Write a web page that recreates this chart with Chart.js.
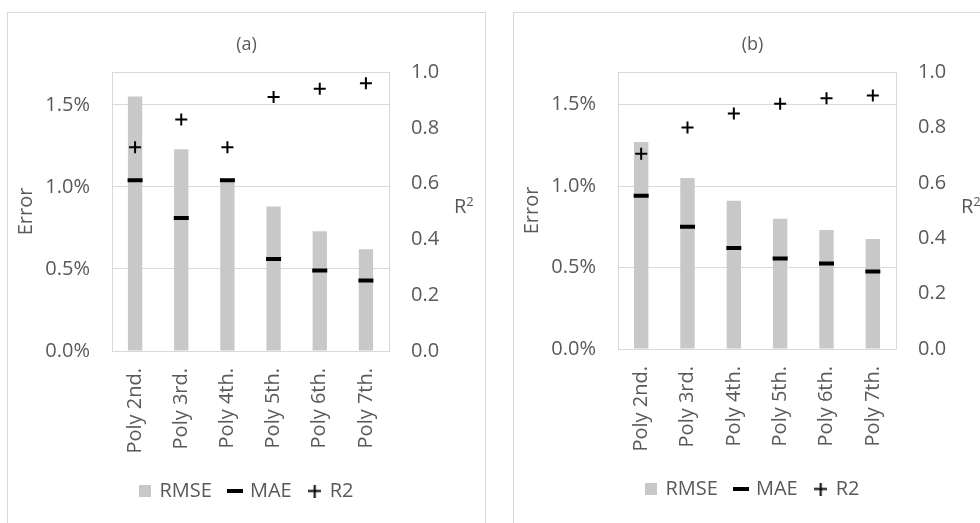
<!DOCTYPE html>
<html>
<head>
<meta charset="utf-8">
<script src="https://cdn.jsdelivr.net/npm/chart.js@4.4.1/dist/chart.umd.min.js"></script>
<style>
  html, body { margin: 0; padding: 0; background: #fff; width: 980px; height: 523px; overflow: hidden; position: relative; font-family: 'Open Sans', sans-serif; }
  .panel { position: absolute; top: 12px; height: 520px; width: 479px; border: 1px solid #d9d9d9; border-bottom: none; box-sizing: border-box; }
  #panelA { left: 7px; }
  #panelB { left: 513px; }
  .panel canvas { position: absolute; left: 0; top: 0; }
  .r2title { position: absolute; top: 196px; font-size: 20px; line-height: 19px; color: #595959; white-space: nowrap; }
  .r2title span { font-size: 13px; position: relative; top: -7px; }
</style>
</head>
<body>
<div class="panel" id="panelA"><canvas id="chartA" width="477" height="510"></canvas></div>
<div class="panel" id="panelB"><canvas id="chartB" width="477" height="510"></canvas></div>
<div class="r2title" style="left:454px">R<span>2</span></div>
<div class="r2title" style="left:961px">R<span>2</span></div>
<script>
// Polynomial fit orders compared in both panels
const categories = ['Poly 2nd.', 'Poly 3rd.', 'Poly 4th.', 'Poly 5th.', 'Poly 6th.', 'Poly 7th.'];
const seriesNames = ['RMSE', 'MAE', 'R2'];

// Panel (a): errors in percent, R² on the secondary axis
const rmseA = [1.55, 1.23, 1.05, 0.88, 0.73, 0.62];
const maeA  = [1.04, 0.81, 1.04, 0.56, 0.49, 0.43];
const r2A   = [0.73, 0.83, 0.73, 0.91, 0.94, 0.96];

// Panel (b)
const rmseB = [1.27, 1.05, 0.91, 0.80, 0.73, 0.675];
const maeB  = [0.94, 0.75, 0.62, 0.555, 0.525, 0.475];
const r2B   = [0.705, 0.80, 0.85, 0.885, 0.905, 0.915];

// Axis ranges and tick spacing
const errorMax = 1.7, errorStep = 0.5;
const r2Max = 1.0, r2Step = 0.2;

const TEXT = '#595959';
const GRID = '#d9d9d9';
const BAR = '#c8c8c8';
const FONT = "'Open Sans', sans-serif";
const AXIS_FONT = 20;

Chart.defaults.font.family = FONT;
Chart.defaults.color = TEXT;

// Small legend glyphs matching the markers
function legendIcon(kind) {
  const c = document.createElement('canvas');
  const g = c.getContext('2d');
  if (kind === 'rect') {
    c.width = 12; c.height = 12;
    g.fillStyle = BAR; g.fillRect(0, 0, 12, 12);
  } else if (kind === 'dash') {
    c.width = 16; c.height = 4;
    g.fillStyle = '#000'; g.fillRect(0, 0, 16, 4);
  } else {
    c.width = 13; c.height = 13;
    g.fillStyle = '#000'; g.fillRect(0, 5.5, 13, 2); g.fillRect(5.5, 0, 2, 13);
  }
  return c;
}
const icons = [legendIcon('rect'), legendIcon('dash'), legendIcon('cross')];

function isMajor(v, step) {
  return Math.abs(v / step - Math.round(v / step)) < 1e-6;
}

function makePanel(id, title, rmse, mae, r2, opt) {
  return new Chart(document.getElementById(id), {
    type: 'bar',
    data: {
      labels: categories,
      datasets: [
        {
          label: seriesNames[0], data: rmse, yAxisID: 'y', order: 3,
          backgroundColor: BAR, borderWidth: 0,
          barPercentage: 0.31, categoryPercentage: 1.0
        },
        {
          type: 'line', label: seriesNames[1], data: mae, yAxisID: 'y', order: 2,
          showLine: false, pointStyle: 'line', pointRadius: 7.5, pointHoverRadius: 7.5,
          borderColor: '#000', backgroundColor: '#000', borderWidth: 4, pointBorderWidth: 4
        },
        {
          type: 'line', label: seriesNames[2], data: r2, yAxisID: 'y1', order: 1,
          showLine: false, pointStyle: 'cross', pointRadius: 6, pointHoverRadius: 6,
          borderColor: '#000', backgroundColor: '#000', borderWidth: 2, pointBorderWidth: 2
        }
      ]
    },
    options: {
      responsive: false,
      animation: false,
      events: [],
      layout: { padding: { top: 0, left: 0, right: 0, bottom: opt.padBottom } },
      plugins: {
        tooltip: { enabled: false },
        title: {
          display: true, text: title, color: TEXT,
          font: { size: 18, weight: 'normal' },
          padding: { top: 21.2, bottom: 16.2 }
        },
        legend: {
          display: true, position: 'bottom',
          labels: {
            usePointStyle: true, boxWidth: 10, boxHeight: 10, padding: 18,
            color: TEXT, font: { size: AXIS_FONT },
            generateLabels: (chart) => chart.data.datasets.map((ds, i) => ({
              text: ds.label, datasetIndex: i, pointStyle: icons[i],
              fillStyle: 'transparent', strokeStyle: 'transparent', lineWidth: 0,
              fontColor: TEXT, hidden: false
            }))
          }
        }
      },
      scales: {
        x: {
          grid: { display: false, drawTicks: false },
          border: { display: true, color: GRID, width: 1 },
          ticks: { minRotation: 90, maxRotation: 90, padding: 17, color: TEXT, font: { size: AXIS_FONT } },
          afterFit: (s) => { s.height = opt.xHeight; }
        },
        y: {
          position: 'left', min: 0, max: errorMax,
          grid: { color: GRID, lineWidth: 1, drawTicks: false },
          border: { display: true, color: GRID, width: 1 },
          ticks: {
            stepSize: errorStep, padding: 22, color: TEXT, font: { size: AXIS_FONT },
            callback: (v) => isMajor(v, errorStep) ? v.toFixed(1) + '%' : ''
          },
          title: { display: true, text: 'Error', color: TEXT, font: { size: AXIS_FONT }, padding: { top: 6.5, bottom: 0 } },
          afterFit: (s) => { s.width = 104; }
        },
        y1: {
          position: 'right', min: 0, max: r2Max,
          grid: { display: false, drawTicks: false },
          border: { display: true, color: GRID, width: 1 },
          ticks: {
            stepSize: r2Step, padding: 22, color: TEXT, font: { size: AXIS_FONT },
            callback: (v) => v.toFixed(1)
          },
          afterFit: (s) => { s.width = opt.rightWidth; }
        }
      }
    }
  });
}

makePanel('chartA', '(a)', rmseA, maeA, r2A, { padBottom: 12, xHeight: 112, rightWidth: 96 });
makePanel('chartB', '(b)', rmseB, maeB, r2B, { padBottom: 14, xHeight: 112, rightWidth: 95 });
</script>
</body>
</html>
